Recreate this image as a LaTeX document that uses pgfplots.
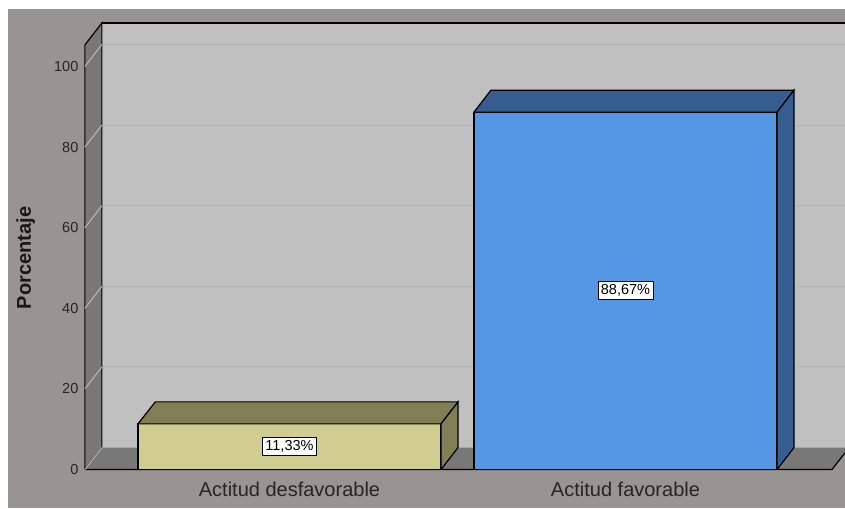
\documentclass[border=0pt]{standalone}
\usepackage{pgfplots}
\pgfplotsset{compat=1.18}
\usepackage{fontspec}
\setmainfont{Liberation Sans}

\definecolor{bg}{RGB}{152,148,145}
\definecolor{wall}{RGB}{192,192,192}
\definecolor{side}{RGB}{120,120,120}
\definecolor{gridc}{RGB}{180,180,180}
\definecolor{diagc}{RGB}{185,185,185}
\definecolor{yfront}{RGB}{209,204,144}
\definecolor{ydark}{RGB}{129,126,86}
\definecolor{bfront}{RGB}{85,150,229}
\definecolor{bdark}{RGB}{53,93,143}

\begin{document}
\begin{tikzpicture}
\begin{axis}[
    scale only axis,
    width=760pt, height=446.5pt,
    xmin=-0.609, xmax=1.6533,
    ymin=0, ymax=110.8,
    clip=false,
    axis on top,
    no markers,
    axis line style={draw=none},
    major tick length=0pt,
    xtick={0,1},
    xticklabels={Actitud desfavorable, Actitud favorable},
    ytick={0,20,...,100},
    /pgf/number format/assume math mode=true,
    yticklabel style={font=\fontsize{14.5}{16}\selectfont, text=black!85, xshift=-3pt},
    xticklabel style={font=\fontsize{20}{24}\selectfont, text=black!85, yshift=-9pt},
]
% page and background
\addplot[fill=white, draw=none] coordinates {(-0.8616,116.5) (1.6533,116.5) (1.6533,-9.553) (-0.8616,-9.553)};
\addplot[fill=bg, draw=none] coordinates {(-0.8378,114.27) (1.6533,114.27) (1.6533,-9.553) (-0.8378,-9.553)};
\coordinate (bbsw) at (axis cs:-0.8616,-9.553);
\coordinate (bbne) at (axis cs:1.6533,116.5);
% back wall
\addplot[fill=wall, draw=none] coordinates {(-0.5584,5.46) (1.6533,5.46) (1.6533,110.8) (-0.5584,110.8)};
% back grid lines
\addplot[gridc, line width=1pt] coordinates {(-0.5584,25.46) (1.6533,25.46)};
\addplot[gridc, line width=1pt] coordinates {(-0.5584,45.46) (1.6533,45.46)};
\addplot[gridc, line width=1pt] coordinates {(-0.5584,65.46) (1.6533,65.46)};
\addplot[gridc, line width=1pt] coordinates {(-0.5584,85.46) (1.6533,85.46)};
\addplot[gridc, line width=1pt] coordinates {(-0.5584,105.46) (1.6533,105.46)};
% left wall and floor
\addplot[fill=side, draw=black, line width=1.2pt] coordinates {(-0.609,0) (-0.609,105.34) (-0.5584,110.8) (-0.5584,5.46) (-0.609,0)};
\addplot[fill=side, draw=none] coordinates {(-0.609,0) (1.6146,0) (1.6533,4.18) (1.6533,5.46) (-0.5584,5.46)};
\addplot[black, line width=1.2pt] coordinates {(-0.609,0) (1.6146,0) (1.6533,4.18)};
\addplot[black, line width=1.2pt] coordinates {(-0.5584,110.8) (1.6533,110.8)};
% tick diagonals
\addplot[diagc, line width=1pt] coordinates {(-0.609,0) (-0.5584,5.46)};
\addplot[diagc, line width=1pt] coordinates {(-0.609,20) (-0.5584,25.46)};
\addplot[diagc, line width=1pt] coordinates {(-0.609,40) (-0.5584,45.46)};
\addplot[diagc, line width=1pt] coordinates {(-0.609,60) (-0.5584,65.46)};
\addplot[diagc, line width=1pt] coordinates {(-0.609,80) (-0.5584,85.46)};
\addplot[diagc, line width=1pt] coordinates {(-0.609,100) (-0.5584,105.46)};

% bar: Actitud desfavorable 11.33
\addplot[ybar, bar width=0.902, bar shift=0, fill=yfront, draw=black, line width=1.2pt] coordinates {(0,11.33)};
\addplot[fill=ydark, draw=black, line width=1.2pt] coordinates {(-0.451,11.33) (0.451,11.33) (0.5016,16.79) (-0.3994,16.79) (-0.451,11.33)};
\addplot[fill=ydark, draw=black, line width=1.2pt] coordinates {(0.451,0) (0.451,11.33) (0.5016,16.79) (0.5016,5.46) (0.451,0)};
% bar: Actitud favorable 88.67
\addplot[ybar, bar width=0.902, bar shift=0, fill=bfront, draw=black, line width=1.2pt] coordinates {(1,88.67)};
\addplot[fill=bdark, draw=black, line width=1.2pt] coordinates {(0.549,88.67) (1.451,88.67) (1.5016,94.13) (0.5994,94.13) (0.549,88.67)};
\addplot[fill=bdark, draw=black, line width=1.2pt] coordinates {(1.451,0) (1.451,88.67) (1.5016,94.13) (1.5016,5.46) (1.451,0)};

% value labels
\node[draw=black, fill=white, line width=0.8pt, inner sep=3pt, font=\fontsize{14.5}{16}\selectfont] at (axis cs:0,5.665) {11,33\%};
\node[draw=black, fill=white, line width=0.8pt, inner sep=3pt, font=\fontsize{14.5}{16}\selectfont] at (axis cs:1,44.335) {88,67\%};
% y label
\node[rotate=90, font=\bfseries\fontsize{20}{24}\selectfont, text=black!90] at (axis cs:-0.785,52.5) {Porcentaje};
\end{axis}
\pgfresetboundingbox
\useasboundingbox (bbsw) rectangle (bbne);
\end{tikzpicture}
\end{document}
